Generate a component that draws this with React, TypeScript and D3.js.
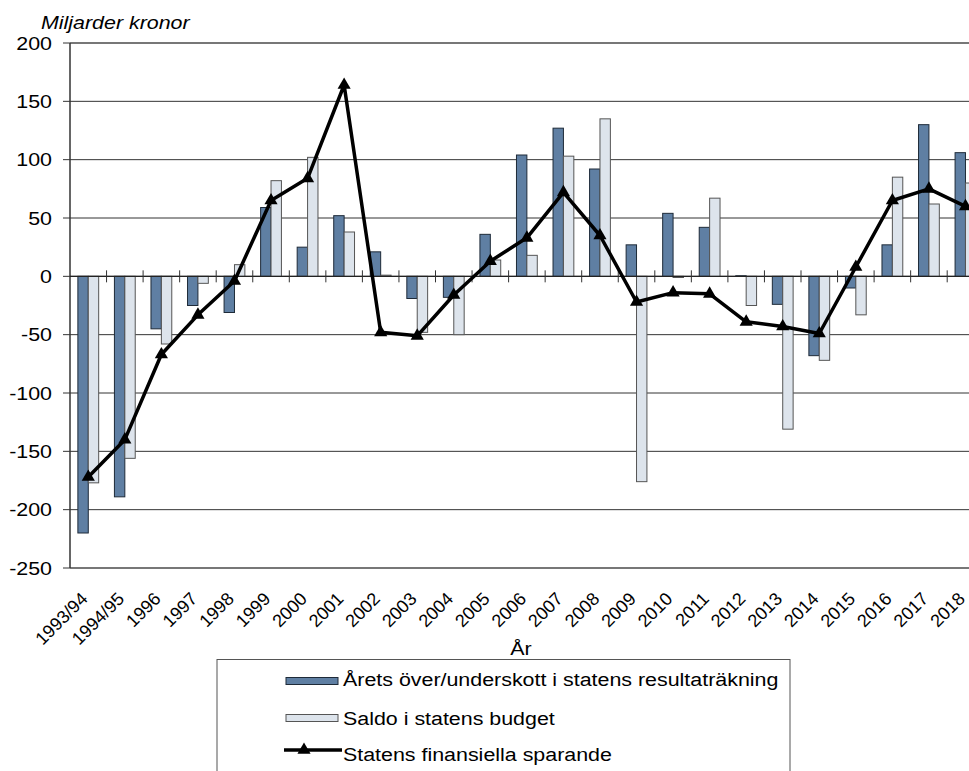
import React from 'react';
import * as d3 from 'd3';

const years = ['1993/94', '1994/95', '1996', '1997', '1998', '1999', '2000', '2001', '2002', '2003', '2004', '2005', '2006', '2007', '2008', '2009', '2010', '2011', '2012', '2013', '2014', '2015', '2016', '2017', '2018'];
const resultat = [-220, -189, -45, -25, -31, 59, 25, 52, 21, -19, -18, 36, 104, 127, 92, 27, 54, 42, 0.5, -24, -68, -10, 27, 130, 106];
const budget = [-177, -156, -58, -6, 10, 82, 102, 38, 1, -48, -50, 14, 18, 103, 135, -176, -1, 67, -25, -131, -72, -33, 85, 62, 80];
const sparande = [-172, -140, -67, -33, -4, 65, 84, 164, -48, -51, -16, 13, 33, 72, 35, -22, -14, -15, -39, -43, -49, 8, 65, 75, 60];
const yTicks = [200, 150, 100, 50, 0, -50, -100, -150, -200, -250];
const legendLabels = ['Årets över/underskott i statens resultaträkning', 'Saldo i statens budget', 'Statens finansiella sparande'];

const W = 969;
const H = 771;
const left = 70;
const bandW = 36.55;
const sx = 1.19; // the source chart is stretched horizontally
const font = '"Liberation Sans", Arial, sans-serif';
const blue = '#5f7fa3';
const light = '#dde4ec';

const App: React.FC = () => {
  const x = d3.scaleBand<string>()
    .domain(years)
    .range([left, left + bandW * years.length]);
  const y = d3.scaleLinear().domain([-250, 200]).range([568, 43]);
  const barW = 10.4;
  const cx = (i: number) => (x(years[i]) as number) + x.bandwidth() / 2;

  const line = d3.line<number>()
    .x((d, i) => cx(i))
    .y((d) => y(d));

  const tri = d3.symbol().type(d3.symbolTriangle).size(75)() as string;
  const legendY = [681, 718, 750];

  return (
    <svg width={W} height={H} style={{ position: 'absolute', left: 0, top: 0, background: '#fff' }} fontFamily={font}>
      <text transform={`translate(41,29) scale(${sx},1)`} fontSize={18} fontStyle="italic">Miljarder kronor</text>

      {yTicks.map((t) => (
        <g key={t}>
          <line x1={left} x2={W} y1={y(t)} y2={y(t)}
            stroke={t === 200 || t === -250 ? '#777' : '#333'}
            strokeWidth={t === 200 || t === -250 ? 2 : 1} />
          <line x1={63} x2={left} y1={y(t)} y2={y(t)} stroke="#333" />
          <text transform={`translate(52,${y(t) + 6.5}) scale(${sx},1)`} textAnchor="end" fontSize={18}>{t}</text>
        </g>
      ))}
      <line x1={left} x2={left} y1={y(200)} y2={y(-250)} stroke="#333" strokeWidth={1.5} />

      {years.map((yr, i) => {
        const x0 = cx(i) - barW;
        return (
          <g key={yr}>
            <rect x={x0} y={Math.min(y(resultat[i]), y(0))} width={barW}
              height={Math.abs(y(resultat[i]) - y(0))} fill={blue} stroke="#1e2a38" strokeWidth={1} />
            <rect x={x0 + barW} y={Math.min(y(budget[i]), y(0))} width={barW}
              height={Math.abs(y(budget[i]) - y(0))} fill={light} stroke="#555" strokeWidth={1} />
          </g>
        );
      })}

      <line x1={left} x2={W} y1={y(0)} y2={y(0)} stroke="#222" strokeWidth={1.2} />
      {years.map((yr) => (
        <line key={yr} x1={(x(yr) as number) + bandW} x2={(x(yr) as number) + bandW}
          y1={y(0) - 6} y2={y(0) + 6} stroke="#333" />
      ))}

      <path d={line(sparande) as string} fill="none" stroke="#000" strokeWidth={3.5} strokeLinejoin="round" />
      {sparande.map((v, i) => (
        <path key={i} d={tri} transform={`translate(${cx(i)},${y(v)})`} fill="#000" />
      ))}

      {years.map((yr, i) => (
        <text key={yr} transform={`translate(${cx(i) + 0.5},${600}) rotate(-45)`}
          textAnchor="end" fontSize={18}>{yr}</text>
      ))}
      <text transform={`translate(521,655) scale(${sx},1)`} textAnchor="middle" fontSize={18}>År</text>

      <rect x={217} y={659.5} width={573} height={130} fill="#fff" stroke="#555" strokeWidth={1} />
      <rect x={286} y={legendY[0] - 3.5} width={52} height={7} fill={blue} stroke="#1e2a38" />
      <rect x={286} y={legendY[1] - 3.5} width={52} height={7} fill={light} stroke="#555" />
      <line x1={284} x2={342} y1={legendY[2]} y2={legendY[2]} stroke="#000" strokeWidth={3.5} />
      <path d={tri} transform={`translate(304,${legendY[2]})`} fill="#000" />
      {legendLabels.map((l, i) => (
        <text key={l} transform={`translate(343,${[686, 725, 761][i]}) scale(${sx},1)`} fontSize={18}>{l}</text>
      ))}
    </svg>
  );
};

export default App;
